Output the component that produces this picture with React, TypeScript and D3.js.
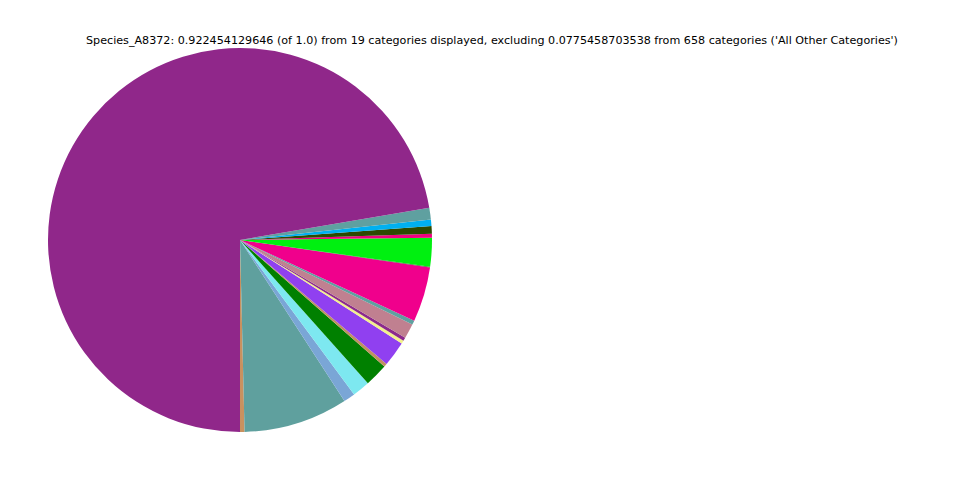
import React from "react";
import * as d3 from "d3";

// Category shares, listed counterclockwise from the bottom of the pie
const categories = [
  "Cat_01", "Cat_02", "Cat_03", "Cat_04", "Cat_05", "Cat_06", "Cat_07",
  "Cat_08", "Cat_09", "Cat_10", "Cat_11", "Cat_12", "Cat_13", "Cat_14",
  "Cat_15", "Cat_16", "Cat_17", "Cat_18", "Cat_19",
];
const values = [
  0.0035, 0.08097, 0.00897, 0.01358, 0.01794, 0.00256, 0.01948,
  0.00256, 0.00256, 0.01153, 0.00333, 0.04254, 0.00051, 0.02229,
  0.00307, 0.00589, 0.00512, 0.00897, 0.66710,
];
const colors = [
  "#c9915f", "#5fa09e", "#7aa6d6", "#7de8f0", "#008000", "#c09060", "#9040f0",
  "#f2f08c", "#8c2a8c", "#c08090", "#5fa0a0", "#f0008c", "#4a5a3a", "#00f010",
  "#f00080", "#2d4a00", "#00b0f0", "#5fa0a0", "#90278a",
];
const title =
  "Species_A8372: 0.922454129646 (of 1.0) from 19 categories displayed, excluding 0.0775458703538 from 658 categories ('All Other Categories')";

const W = 960;
const H = 480;
const cx = 240;
const cy = 240;
const R = 192;

export default function App() {
  const pie = d3
    .pie<number>()
    .sort(null)
    .value((d) => d)
    .startAngle(Math.PI)
    .endAngle(-Math.PI);
  const arcs = pie(values);
  const arc = d3.arc<d3.PieArcDatum<number>>().innerRadius(0).outerRadius(R);

  return (
    <svg
      width={W}
      height={H}
      style={{ position: "absolute", left: 0, top: 0, background: "#fff" }}
    >
      <g transform={`translate(${cx},${cy})`}>
        {arcs.map((a, i) => (
          <path key={categories[i]} d={arc(a) || ""} fill={colors[i]} />
        ))}
      </g>
      <text
        x={492}
        y={43.5}
        textAnchor="middle"
        fontFamily="DejaVu Sans"
        fontSize={11.15}
        fill="#000"
      >
        {title}
      </text>
    </svg>
  );
}
